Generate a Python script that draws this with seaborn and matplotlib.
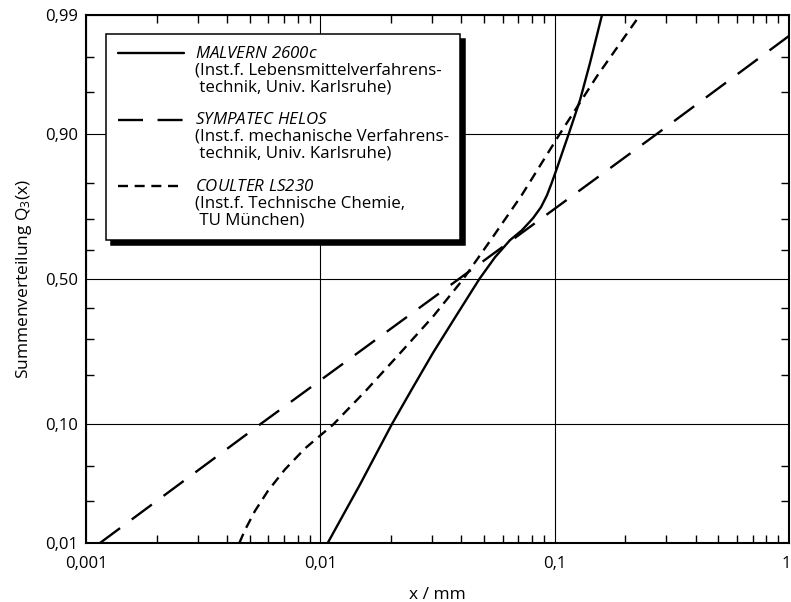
import math
import numpy as np
import pandas as pd
import matplotlib
matplotlib.use("Agg")
import matplotlib.pyplot as plt
import matplotlib.transforms as mtransforms
from matplotlib.lines import Line2D
from matplotlib.legend_handler import HandlerLine2D
from matplotlib.ticker import FixedLocator, FixedFormatter, NullFormatter, LogLocator
import seaborn as sns

# ---------------- data ----------------
malvern_x = [0.01075, 0.01477, 0.02017, 0.02461, 0.03025, 0.03793, 0.04771, 0.05565,
             0.06449, 0.07255, 0.08086, 0.08745, 0.09276, 0.09741, 0.1023, 0.1075,
             0.1152, 0.1283, 0.1415, 0.1592]
malvern_q = [0.01, 0.0351, 0.10, 0.1662, 0.2576, 0.3721, 0.50, 0.5762,
             0.634, 0.6665, 0.704, 0.7367, 0.770, 0.8033, 0.8357, 0.866,
             0.901, 0.9426, 0.9715, 0.99]

sympatec_x = [0.001147, 0.005527, 0.03899, 0.2742, 1.0]
sympatec_q = [0.01, 0.10, 0.50, 0.90, 0.9839]

coulter_x = [0.004511, 0.004771, 0.005262, 0.005979, 0.007066, 0.0086, 0.01136,
             0.01577, 0.02188, 0.03034, 0.04075, 0.05403, 0.07234, 0.1054, 0.1516, 0.2313]
coulter_q = [0.01, 0.0135, 0.0205, 0.0310, 0.0467, 0.0677, 0.10,
             0.1645, 0.2565, 0.3714, 0.50, 0.6405, 0.770, 0.900, 0.9631, 0.99]

device_titles = ["MALVERN 2600c", "SYMPATEC HELOS", "COULTER LS230"]
device_notes = ["(Inst.f. Lebensmittelverfahrens-\n technik, Univ. Karlsruhe)",
                "(Inst.f. mechanische Verfahrens-\n technik, Univ. Karlsruhe)",
                "(Inst.f. Technische Chemie,\n TU München)"]

y_major = [0.01, 0.10, 0.50, 0.90, 0.99]
y_major_labels = ["0,01", "0,10", "0,50", "0,90", "0,99"]
y_minor = [0.025, 0.05, 0.2, 0.3, 0.4, 0.6, 0.7, 0.8, 0.95, 0.975]
x_major = [0.001, 0.01, 0.1, 1]
x_major_labels = ["0,001", "0,01", "0,1", "1"]

# ---------------- probability (probit) scale ----------------
_a = [-3.969683028665376e+01, 2.209460984245205e+02, -2.759285104469687e+02,
      1.383577518672690e+02, -3.066479806614716e+01, 2.506628277459239e+00]
_b = [-5.447609879822406e+01, 1.615858368580409e+02, -1.556989798598866e+02,
      6.680131188771972e+01, -1.328068155288572e+01]
_c = [-7.784894002430293e-03, -3.223964580411365e-01, -2.400758277161838e+00,
      -2.549732539343734e+00, 4.374664141464968e+00, 2.938163982698783e+00]
_d = [7.784695709041462e-03, 3.224671290700398e-01, 2.445134137142996e+00,
      3.754408661907416e+00]


def probit(p):
    p = np.array(p, dtype=float)
    p = np.clip(p, 1e-12, 1 - 1e-12)
    out = np.full_like(p, np.nan)
    plow, phigh = 0.02425, 1 - 0.02425
    lo = p < plow
    hi = p > phigh
    mid = (p >= plow) & (p <= phigh)
    q = np.sqrt(-2 * np.log(p[lo]))
    out[lo] = (((((_c[0]*q+_c[1])*q+_c[2])*q+_c[3])*q+_c[4])*q+_c[5]) / \
              ((((_d[0]*q+_d[1])*q+_d[2])*q+_d[3])*q+1)
    q = np.sqrt(-2 * np.log(1 - p[hi]))
    out[hi] = -(((((_c[0]*q+_c[1])*q+_c[2])*q+_c[3])*q+_c[4])*q+_c[5]) / \
               ((((_d[0]*q+_d[1])*q+_d[2])*q+_d[3])*q+1)
    q = p[mid] - 0.5
    r = q * q
    out[mid] = (((((_a[0]*r+_a[1])*r+_a[2])*r+_a[3])*r+_a[4])*r+_a[5])*q / \
               (((((_b[0]*r+_b[1])*r+_b[2])*r+_b[3])*r+_b[4])*r+1)
    return out


_erf = np.vectorize(math.erf, otypes=[float])


def inv_probit(z):
    z = np.array(z, dtype=float)
    return 0.5 * (1.0 + _erf(z / math.sqrt(2.0)))


# ---------------- style ----------------
sns.set_theme(style="ticks")
plt.rcParams["font.family"] = ["Open Sans", "DejaVu Sans"]
plt.rcParams["mathtext.fontset"] = "custom"
plt.rcParams["mathtext.rm"] = "Open Sans"
plt.rcParams["mathtext.it"] = "Open Sans:italic"
plt.rcParams["mathtext.sf"] = "Open Sans:italic"
plt.rcParams["mathtext.bf"] = "Open Sans:bold"
plt.rcParams["lines.scale_dashes"] = False
plt.rcParams["text.color"] = "black"
plt.rcParams["axes.labelcolor"] = "black"

LW = 1.7
dash_map = {"MALVERN 2600c": "", "SYMPATEC HELOS": (18, 10.5), "COULTER LS230": (7.2, 4.8)}

frames = []
for name, xs, qs in zip(device_titles, [malvern_x, sympatec_x, coulter_x],
                        [malvern_q, sympatec_q, coulter_q]):
    frames.append(pd.DataFrame({"x": xs, "Q": qs, "device": name}))
df = pd.concat(frames, ignore_index=True)

fig = plt.figure(figsize=(7.91, 6.02), dpi=100)
ax = fig.add_axes([86 / 791, 1 - 543 / 602, 703 / 791, 528 / 602])
ax.set_xscale("log")
ax.set_yscale("function", functions=(probit, inv_probit))

sns.lineplot(data=df, x="x", y="Q", style="device", style_order=device_titles,
             dashes=dash_map, color="black", linewidth=LW, estimator=None,
             sort=False, legend=False, ax=ax)
for ln in ax.lines:
    ln.set_solid_joinstyle("round")

ax.set_xlim(0.001, 1)
ax.set_ylim(0.01, 0.99)

ax.yaxis.set_major_locator(FixedLocator(y_major))
ax.yaxis.set_major_formatter(FixedFormatter(y_major_labels))
ax.yaxis.set_minor_locator(FixedLocator(y_minor))
ax.yaxis.set_minor_formatter(NullFormatter())
ax.xaxis.set_major_locator(FixedLocator(x_major))
ax.xaxis.set_major_formatter(FixedFormatter(x_major_labels))
ax.xaxis.set_minor_locator(LogLocator(base=10, subs=np.arange(2, 10), numticks=20))
ax.xaxis.set_minor_formatter(NullFormatter())

ax.tick_params(which="both", direction="in", top=True, right=True,
               colors="black", labelsize=12)
ax.tick_params(axis="x", which="both", pad=9)
ax.tick_params(axis="y", which="both", pad=6)
ax.tick_params(which="minor", length=6, width=1.0)
ax.tick_params(which="major", length=0)
ax.grid(True, which="major", color="black", linewidth=0.8)
ax.set_axisbelow(True)
for sp in ax.spines.values():
    sp.set_color("black")
    sp.set_linewidth(1.5)
    sp.set_visible(True)

ax.set_xlabel("x / mm", fontsize=12.5, labelpad=11)
ax.set_ylabel("Summenverteilung Q$_3$(x)", fontsize=12.5, labelpad=8)

fig.canvas.draw()
xt = ax.get_xticklabels()
xt[-1].set_horizontalalignment("right")
xt[-1].set_transform(xt[-1].get_transform() +
                     mtransforms.ScaledTranslation(2 / 100, 0, fig.dpi_scale_trans))


# ---------------- legend ----------------
class FirstLineHandler(HandlerLine2D):
    def __init__(self, shift, **kw):
        super().__init__(**kw)
        self._shift = shift

    def create_artists(self, legend, orig_handle, xdescent, ydescent, width,
                       height, fontsize, trans):
        arts = super().create_artists(legend, orig_handle, xdescent, ydescent,
                                      width, height, fontsize, trans)
        t = mtransforms.Affine2D().translate(0, self._shift) + trans
        for a in arts:
            a.set_transform(t)
        return arts


handles = []
labels = []
for name, note in zip(device_titles, device_notes):
    d = dash_map[name]
    if d == "":
        h = Line2D([], [], color="black", lw=LW, linestyle="-")
    else:
        h = Line2D([], [], color="black", lw=LW, linestyle=(0, d))
    handles.append(h)
    labels.append("$\\mathsf{" + name.replace(" ", "\\ ") + "}$\n" + note)

leg = ax.legend(handles, labels, loc="upper left",
                bbox_to_anchor=((106 - 86) / 703, (543 - 34) / 528),
                borderaxespad=0, frameon=True, fancybox=False,
                edgecolor="black", facecolor="white", framealpha=1,
                shadow={"ox": 3.5, "oy": -3.5, "facecolor": "black",
                        "edgecolor": "black", "alpha": 1},
                handlelength=3.95, handletextpad=0.6, borderpad=0.68,
                labelspacing=1.0, fontsize=12.2,
                handler_map={h: FirstLineHandler(12.4) for h in handles})
leg.get_frame().set_linewidth(1.1)
for t in leg.get_texts():
    t.set_color("black")
    t.set_linespacing(1.07)

fig.savefig("out.png", dpi=100)
